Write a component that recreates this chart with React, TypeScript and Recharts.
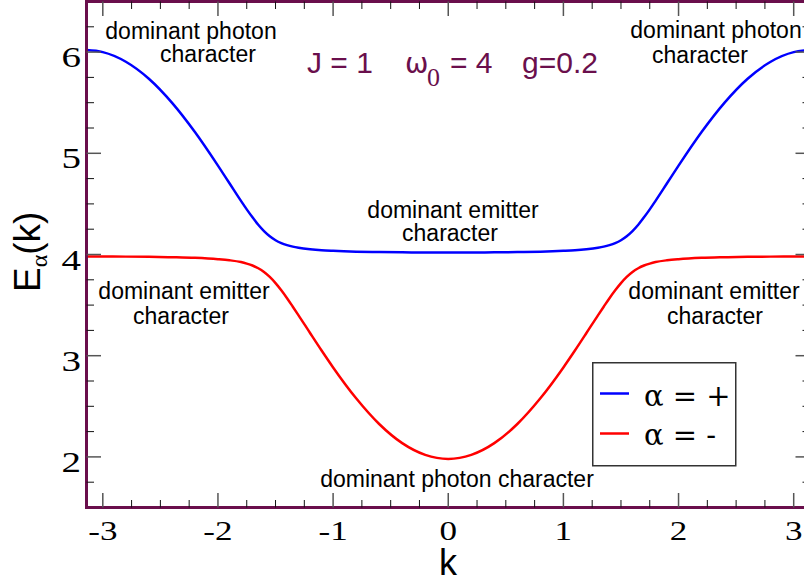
import React from "react";
import { LineChart, Line, XAxis, YAxis, Legend, Customized } from "recharts";

// wave number k (sampled more densely around the band crossing near ±π/2)
const K = [
  -3.14159, -3.0, -2.8, -2.6, -2.4, -2.2, -2.0, -1.9, -1.8, -1.75, -1.7, -1.65, -1.6, -1.55,
  -1.5, -1.45, -1.4, -1.35, -1.3, -1.2, -1.1, -1.0, -0.8, -0.6, -0.4, -0.2, 0,
  0.2, 0.4, 0.6, 0.8, 1.0, 1.1, 1.2, 1.3, 1.35, 1.4, 1.45, 1.5, 1.55, 1.6, 1.65, 1.7,
  1.75, 1.8, 1.9, 2.0, 2.2, 2.4, 2.6, 2.8, 3.0, 3.14159,
];

// upper band, alpha = +
const E_PLUS = [
  6.02, 6.0, 5.905, 5.737, 5.501, 5.21, 4.878, 4.704, 4.53, 4.446, 4.367, 4.294, 4.231, 4.18,
  4.141, 4.113, 4.093, 4.078, 4.067, 4.052, 4.042, 4.036, 4.028, 4.024, 4.022, 4.02, 4.02,
  4.02, 4.022, 4.024, 4.028, 4.036, 4.042, 4.052, 4.067, 4.078, 4.093, 4.113, 4.141, 4.18,
  4.231, 4.294, 4.367, 4.446, 4.53, 4.704, 4.878, 5.21, 5.501, 5.737, 5.905, 6.0, 6.02,
];

// lower band, alpha = -
const E_MINUS = [
  3.98, 3.98, 3.979, 3.977, 3.973, 3.967, 3.954, 3.943, 3.925, 3.91, 3.891, 3.864, 3.827, 3.778,
  3.717, 3.646, 3.568, 3.484, 3.399, 3.224, 3.051, 2.884, 2.579, 2.325, 2.136, 2.02, 1.98,
  2.02, 2.136, 2.325, 2.579, 2.884, 3.051, 3.224, 3.399, 3.484, 3.568, 3.646, 3.717, 3.778,
  3.827, 3.864, 3.891, 3.91, 3.925, 3.943, 3.954, 3.967, 3.973, 3.977, 3.979, 3.98, 3.98,
];

const X_TICKS = [
  -3, -2.75, -2.5, -2.25, -2, -1.75, -1.5, -1.25, -1, -0.75, -0.5, -0.25, 0,
  0.25, 0.5, 0.75, 1, 1.25, 1.5, 1.75, 2, 2.25, 2.5, 2.75, 3,
];
const Y_TICKS = [
  1.75, 2, 2.25, 2.5, 2.75, 3, 3.25, 3.5, 3.75, 4, 4.25, 4.5, 4.75, 5, 5.25, 5.5, 5.75, 6, 6.25,
];

const SERIES_NAMES = ["α = +", "α = -"];

const data = K.map((k, i) => ({ k, plus: E_PLUS[i], minus: E_MINUS[i] }));

const PURPLE = "#6a0f4c";
const SANS = "'Liberation Sans', Arial, sans-serif";
const SERIF = "'Liberation Serif', 'Times New Roman', serif";
const MAJOR = 14.5;
const MINOR = 7.5;

const frame = { stroke: PURPLE, strokeWidth: 3, strokeLinecap: "square" as const };

function tickStyle(major: boolean) {
  return major ? { stroke: "#555", strokeWidth: 1.5 } : { stroke: "#111", strokeWidth: 1 };
}

// tick numbers in the reference are a wide roman face: stretch Times sideways
function TickNumber({ x, y, anchor, size, value }: any) {
  return (
    <text
      transform={`translate(${x} ${y}) scale(1.3 1)`}
      textAnchor={anchor}
      fontFamily={SERIF}
      fontSize={size}
      fill="#000"
    >
      {value}
    </text>
  );
}

function BottomTick({ x, y, payload }: any) {
  const major = Number.isInteger(payload.value);
  return (
    <g>
      <line x1={x} x2={x} y1={y} y2={y - (major ? MAJOR : MINOR)} {...tickStyle(major)} />
      {major && <TickNumber x={x} y={y + 32} anchor="middle" size={27} value={payload.value} />}
    </g>
  );
}

function TopTick({ x, y, payload }: any) {
  const major = Number.isInteger(payload.value);
  return <line x1={x} x2={x} y1={y} y2={y + (major ? MAJOR : MINOR)} {...tickStyle(major)} />;
}

function LeftTick({ x, y, payload }: any) {
  const major = Number.isInteger(payload.value);
  return (
    <g>
      <line x1={x} x2={x + (major ? MAJOR : MINOR)} y1={y} y2={y} {...tickStyle(major)} />
      {major && <TickNumber x={x - 5.5} y={y + 15} anchor="end" size={30} value={payload.value} />}
    </g>
  );
}

function RightTick({ x, y, payload }: any) {
  const major = Number.isInteger(payload.value);
  return <line x1={x} x2={x - (major ? MAJOR : MINOR)} y1={y} y2={y} {...tickStyle(major)} />;
}

function LegendBox({ payload }: any) {
  return (
    <svg width={146} height={106} style={{ display: "block" }}>
      <rect x={0.75} y={0.75} width={143} height={103} fill="#fff" stroke="#333" strokeWidth={1.5} />
      {(payload || []).map((p: any, i: number) => (
        <g key={p.value}>
          <line x1={8} x2={37} y1={31.5 + 40 * i} y2={31.5 + 40 * i} stroke={p.color} strokeWidth={2.5} />
          <text x={52} y={44 + 39 * i} fontFamily="'DejaVu Serif', serif" fontSize={29} fill="#000">
            {p.value}
          </text>
        </g>
      ))}
    </svg>
  );
}

function Note({ x, y, children }: any) {
  return (
    <text x={x} y={y} textAnchor="middle" fontFamily={SANS} fontSize={23} fill="#000">
      {children}
    </text>
  );
}

function Overlay() {
  return (
    <g>
      <Note x={191} y={39}>dominant photon</Note>
      <Note x={208} y={62}>character</Note>
      <Note x={716} y={38}>dominant photon</Note>
      <Note x={700} y={63}>character</Note>
      <Note x={453} y={218}>dominant emitter</Note>
      <Note x={450} y={241}>character</Note>
      <Note x={184} y={299}>dominant emitter</Note>
      <Note x={181} y={324}>character</Note>
      <Note x={714} y={299}>dominant emitter</Note>
      <Note x={715} y={324}>character</Note>
      <Note x={457} y={487}>dominant photon character</Note>

      <g fill={PURPLE} fontSize={30}>
        <text x={307} y={73} fontFamily={SANS}>J = 1</text>
        <text x={405} y={73} fontFamily="'DejaVu Sans', sans-serif" fontSize={28}>ω</text>
        <text x={427} y={86} fontFamily={SERIF} fontSize={26}>0</text>
        <text x={450} y={73} fontFamily={SANS}>= 4</text>
        <text x={522} y={73} fontFamily={SANS}>g=0.2</text>
      </g>

      <text x={448} y={575} textAnchor="middle" fontFamily={SANS} fontSize={36} fill="#000">k</text>
      <text x={40} y={292} transform="rotate(-90 40 292)" fontFamily={SANS} fontSize={37} fill="#000">
        E
        <tspan dy={7} fontFamily={SERIF} fontSize={24}>α</tspan>
        <tspan dy={-7}>(k)</tspan>
      </text>
    </g>
  );
}

export default function App() {
  return (
    <div style={{ position: "fixed", left: 0, top: 0, width: 804, height: 582, overflow: "hidden", background: "#fff" }}>
      <LineChart width={830} height={582} data={data} margin={{ top: 0, right: 0, bottom: 0, left: 0 }}>
        <XAxis
          xAxisId="bottom"
          dataKey="k"
          type="number"
          domain={[-Math.PI, Math.PI]}
          allowDataOverflow
          ticks={X_TICKS}
          interval={0}
          height={74.5}
          tickSize={0}
          tickMargin={0}
          tickLine={false}
          axisLine={frame}
          tick={BottomTick}
        />
        <XAxis
          xAxisId="top"
          orientation="top"
          dataKey="k"
          type="number"
          domain={[-Math.PI, Math.PI]}
          allowDataOverflow
          ticks={X_TICKS}
          interval={0}
          height={1.5}
          tickSize={0}
          tickMargin={0}
          tickLine={false}
          axisLine={frame}
          tick={TopTick}
        />
        <YAxis
          yAxisId="left"
          type="number"
          domain={[1.5, 6.5]}
          allowDataOverflow
          ticks={Y_TICKS}
          interval={0}
          width={86.5}
          tickSize={0}
          tickMargin={0}
          tickLine={false}
          axisLine={frame}
          tick={LeftTick}
        />
        <YAxis
          yAxisId="right"
          orientation="right"
          type="number"
          domain={[1.5, 6.5]}
          allowDataOverflow
          ticks={Y_TICKS}
          interval={0}
          width={20}
          tickSize={0}
          tickMargin={0}
          tickLine={false}
          axisLine={frame}
          tick={RightTick}
        />
        <Line
          xAxisId="bottom"
          yAxisId="left"
          type="monotone"
          dataKey="plus"
          name={SERIES_NAMES[0]}
          stroke="#0000ff"
          strokeWidth={2.5}
          dot={false}
          isAnimationActive={false}
        />
        <Line
          xAxisId="bottom"
          yAxisId="left"
          type="monotone"
          dataKey="minus"
          name={SERIES_NAMES[1]}
          stroke="#ff0000"
          strokeWidth={2.5}
          dot={false}
          isAnimationActive={false}
        />
        <Legend
          layout="vertical"
          align="center"
          verticalAlign="middle"
          content={LegendBox}
          wrapperStyle={{ left: 592, top: 362, width: 146, height: 106 }}
        />
        <Customized component={Overlay} />
      </LineChart>
    </div>
  );
}
